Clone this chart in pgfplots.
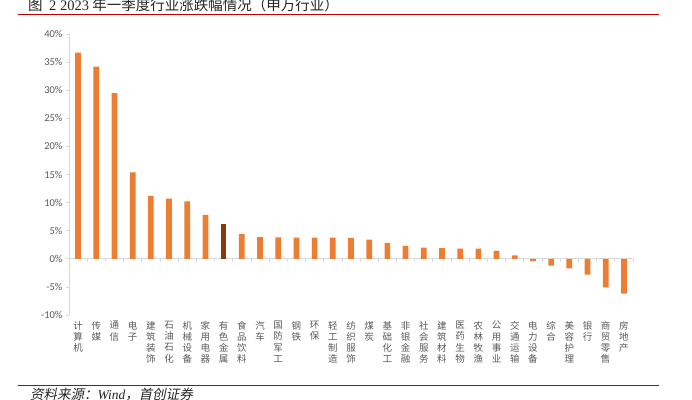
\documentclass[border=0pt]{standalone}
\usepackage{pgfplots}
\pgfplotsset{compat=1.18}
\usepackage{fontspec}
\setmainfont{Carlito}
\newfontfamily\cjk{Noto Sans CJK SC}
\newfontfamily\cjkit{Noto Sans CJK SC}[FakeSlant=0.2]
\newfontfamily\tnr{Liberation Serif}
\definecolor{barorange}{HTML}{ED7D31}
\definecolor{barbrown}{HTML}{843C0C}
\definecolor{axisgray}{HTML}{D9D9D9}
\definecolor{labelgray}{HTML}{595959}
\definecolor{rulered}{HTML}{C00000}
\begin{document}
\begin{tikzpicture}[x=1pt,y=1pt]
\useasboundingbox (0,0) rectangle (692,399);
% title and rules
\node[anchor=base west, inner sep=0pt, text=black!85] at (28,388.5)
  {\fontsize{14.5}{16}\selectfont\cjk 图\ \ {\tnr 2 2023} 年一季度行业涨跌幅情况（申万行业）};
\draw[rulered, line width=1.4pt] (18,384.3) -- (659,384.3);
\draw[rulered, line width=1.4pt] (18,13.7) -- (659,13.7);
\node[anchor=base west, inner sep=0pt, text=black!85] at (30,0)
  {\fontsize{13.5}{15}\selectfont\cjkit 资料来源：{\tnr\itshape Wind}，首创证券};
\begin{axis}[
  at={(69pt,84pt)}, anchor=south west,
  width=564pt, height=281pt, scale only axis,
  xmin=-0.5, xmax=30.5, ymin=-10, ymax=40,
  axis x line*=bottom, axis y line*=left,
  x axis line style={draw=none},
  y axis line style={draw=axisgray, line width=0.8pt},
  ytick={-10,-5,...,40},
  yticklabels={-10\%,-5\%,0\%,5\%,10\%,15\%,20\%,25\%,30\%,35\%,40\%},
  yticklabel style={font=\fontsize{10.5}{12}\selectfont, text=labelgray},
  y tick style={draw=axisgray, line width=0.8pt},
  tick align=outside, major tick length=3pt,
  xtick={0,...,30},
  x tick style={draw=none},
  xticklabels={{计\\算\\机},{传\\媒},{通\\信},{电\\子},{建\\筑\\装\\饰},{石\\油\\石\\化},{机\\械\\设\\备},{家\\用\\电\\器},{有\\色\\金\\属},{食\\品\\饮\\料},{汽\\车},{国\\防\\军\\工},{钢\\铁},{环\\保},{轻\\工\\制\\造},{纺\\织\\服\\饰},{煤\\炭},{基\\础\\化\\工},{非\\银\\金\\融},{社\\会\\服\\务},{建\\筑\\材\\料},{医\\药\\生\\物},{农\\林\\牧\\渔},{公\\用\\事\\业},{交\\通\\运\\输},{电\\力\\设\\备},{综\\合},{美\\容\\护\\理},{银\\行},{商\\贸\\零\\售},{房\\地\\产}},
  xticklabel style={align=center, font=\cjk\fontsize{9.5}{11.2}\selectfont, text=labelgray, anchor=north, inner sep=0pt, yshift=-3pt},
  clip=false,
]
\draw[axisgray, line width=0.8pt] (axis cs:-0.5,0) -- (axis cs:30.5,0);
\pgfplotsinvokeforeach{0,...,31}{
  \draw[axisgray, line width=0.8pt] (axis cs:#1-0.5,0) -- ++(0pt,-3pt);
}
\addplot[ybar, bar width=5.7pt, bar shift=0pt, fill=barorange, draw=none] coordinates {
(0,36.7)(1,34.2)(2,29.5)(3,15.4)(4,11.2)(5,10.7)(6,10.2)(7,7.8)
(9,4.4)(10,3.85)(11,3.8)(12,3.75)(13,3.75)(14,3.75)(15,3.7)(16,3.4)
(17,2.85)(18,2.3)(19,2.0)(20,1.9)(21,1.8)(22,1.8)(23,1.4)(24,0.6)
(25,-0.4)(26,-1.2)(27,-1.7)(28,-2.8)(29,-5.1)(30,-6.2)};
\addplot[ybar, bar width=5.7pt, bar shift=0pt, fill=barbrown, draw=none] coordinates {(8,6.2)};
\end{axis}
\end{tikzpicture}
\end{document}
